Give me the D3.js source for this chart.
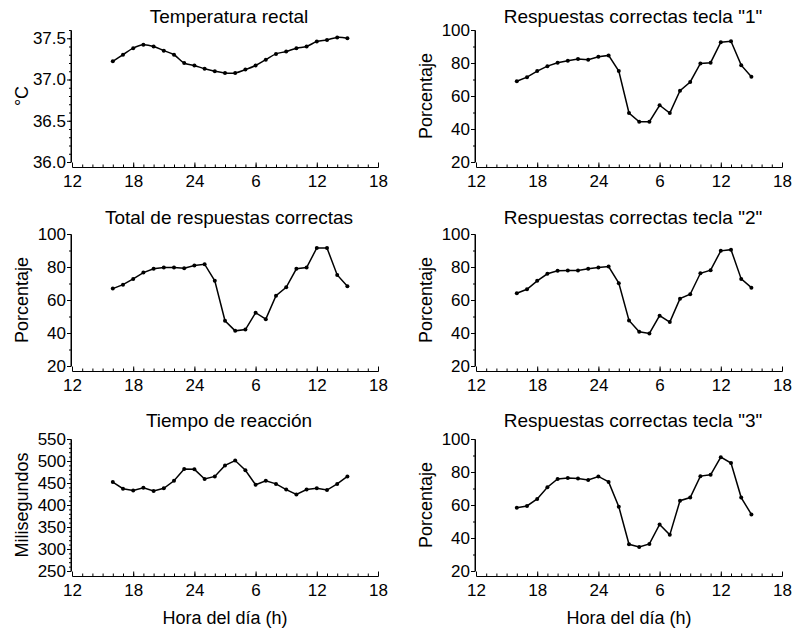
<!DOCTYPE html>
<html>
<head>
<meta charset="utf-8">
<script src="https://cdn.jsdelivr.net/npm/d3@7"></script>
<style>
  body { margin: 0; background: #fff; }
  svg { display: block; font-family: "Liberation Sans", Arial, sans-serif; }
  .axis path, .axis line { stroke: #000; stroke-width: 1; }
  .axis text { font-size: 17px; fill: #000; }
</style>
</head>
<body>
<div id="chart"></div>
<script>
// hour of day (continuous: 24 = midnight, 30 = 6 h next day)
const hours = [16, 17, 18, 19, 20, 21, 22, 23, 24, 25, 26, 27,
               28, 29, 30, 31, 32, 33, 34, 35, 36, 37, 38, 39];
const xTickValues = [12, 18, 24, 30, 36, 42];
const xTickLabels = ["12", "18", "24", "6", "12", "18"];

const tempRectal = [37.22, 37.30, 37.38, 37.42, 37.40, 37.35, 37.30, 37.20, 37.17, 37.13, 37.10, 37.08,
                    37.08, 37.12, 37.17, 37.24, 37.31, 37.34, 37.38, 37.40, 37.46, 37.48, 37.51, 37.50];
const totalCorrect = [66.9, 69.3, 72.8, 76.6, 78.9, 79.7, 79.7, 79.3, 80.9, 81.7, 71.6, 47.4,
                      41.3, 42.1, 52.3, 48.4, 62.6, 67.7, 78.9, 79.7, 91.5, 91.5, 75.2, 68.3];
const reactionTime = [452, 437, 433, 439, 432, 438, 455, 482, 481, 459, 465, 490,
                      501, 479, 446, 455, 448, 435, 424, 435, 438, 434, 448, 465];
const key1Correct = [68.9, 71.4, 75.1, 78.1, 80.2, 81.4, 82.4, 82.0, 83.8, 84.6, 75.1, 49.7,
                     44.4, 44.4, 54.4, 49.7, 63.2, 68.5, 79.7, 80.2, 92.6, 93.2, 78.7, 71.6];
const key2Correct = [64.1, 66.5, 71.6, 75.9, 77.7, 77.9, 77.9, 78.9, 79.7, 80.3, 70.2, 47.6,
                     40.7, 39.7, 50.5, 46.6, 60.8, 63.5, 76.2, 78.1, 89.8, 90.5, 72.8, 67.5];
const key3Correct = [58.4, 59.4, 63.7, 70.8, 75.8, 76.4, 76.0, 75.2, 77.3, 74.0, 59.0, 36.2,
                     34.6, 36.4, 48.2, 41.9, 62.6, 64.5, 77.5, 78.3, 89.0, 85.4, 64.5, 54.3];

const tempTicks = [36.0, 36.5, 37.0, 37.5];
const pctTicks = [20, 40, 60, 80, 100];
const msTicks = [250, 300, 350, 400, 450, 500, 550];

const titles = ["Temperatura rectal", "Total de respuestas correctas", "Tiempo de reacción",
                "Respuestas correctas tecla \"1\"", "Respuestas correctas tecla \"2\"", "Respuestas correctas tecla \"3\""];
const xAxisTitle = "Hora del día (h)";

const width = 795, height = 628;
const colX = [72, 476];
const plotW = 306;
const rowTop = [30, 234, 439];
const plotH = 132;
const titleBase = [23, 224, 427];

const pct = { domain: [20, 100], ticks: pctTicks, minor: 10, fmt: d3.format("d"), label: "Porcentaje" };
const panels = [
  { col: 0, row: 0, title: titles[0], values: tempRectal, domain: [36, 37.6], ticks: tempTicks, minor: 0.1,
    fmt: d3.format(".1f"), label: "°C", curve: d3.curveCatmullRom },
  { col: 0, row: 1, title: titles[1], values: totalCorrect, ...pct },
  { col: 0, row: 2, title: titles[2], values: reactionTime, domain: [250, 550], ticks: msTicks, minor: 10,
    fmt: d3.format("d"), label: "Milisegundos" },
  { col: 1, row: 0, title: titles[3], values: key1Correct, ...pct },
  { col: 1, row: 1, title: titles[4], values: key2Correct, ...pct },
  { col: 1, row: 2, title: titles[5], values: key3Correct, ...pct }
];

const svg = d3.select("#chart").append("svg")
  .attr("width", width)
  .attr("height", height);

panels.forEach(p => {
  const x0 = colX[p.col];
  const top = rowTop[p.row];
  const g = svg.append("g").attr("transform", `translate(${x0}, ${top})`);

  const x = d3.scaleLinear().domain([12, 42]).range([0, plotW]);
  const y = d3.scaleLinear().domain(p.domain).range([plotH, 0]);

  // y axis, minor ticks first
  const minorVals = d3.range(p.domain[0], p.domain[1] + p.minor / 2, p.minor);
  g.append("g")
    .attr("class", "axis")
    .attr("transform", "translate(-1, 0)")
    .call(d3.axisLeft(y).tickValues(minorVals).tickSize(2).tickSizeOuter(0).tickFormat(""));
  g.append("g")
    .attr("class", "axis")
    .attr("transform", "translate(-1, 0)")
    .call(d3.axisLeft(y).tickValues(p.ticks).tickSize(4).tickSizeOuter(0).tickPadding(1).tickFormat(p.fmt))
    .call(a => a.select(".domain").attr("d", `M0,${y(p.domain[1])}V${plotH}`));

  // x axis sits a few px below the plot, ticks point inward
  const xg = g.append("g").attr("transform", `translate(0, ${plotH + 5})`);
  xg.append("g")
    .attr("class", "axis")
    .call(d3.axisBottom(x).tickValues(d3.range(12, 43, 1)).tickSizeInner(-2.5).tickSizeOuter(0).tickFormat(""));
  xg.append("g")
    .attr("class", "axis")
    .call(d3.axisBottom(x).tickValues(xTickValues).tickSizeInner(-4.5).tickSizeOuter(0).tickPadding(8)
      .tickFormat((d, i) => xTickLabels[i]));

  // title
  svg.append("text")
    .attr("x", x0 + plotW / 2 + 4)
    .attr("y", titleBase[p.row])
    .attr("text-anchor", "middle")
    .attr("font-size", 19)
    .text(p.title);

  // y label
  svg.append("text")
    .attr("transform", `translate(${x0 - 44}, ${top + plotH / 2}) rotate(-90)`)
    .attr("text-anchor", "middle")
    .attr("font-size", 18)
    .text(p.label);

  if (p.row === 2) {
    svg.append("text")
      .attr("x", x0 + plotW / 2)
      .attr("y", 624)
      .attr("text-anchor", "middle")
      .attr("font-size", 18)
      .text(xAxisTitle);
  }

  const data = hours.map((h, i) => ({ h, v: p.values[i] }));
  const line = d3.line()
    .x(d => x(d.h))
    .y(d => y(d.v))
    .curve(p.curve || d3.curveLinear);

  g.append("path")
    .datum(data)
    .attr("fill", "none")
    .attr("stroke", "#000")
    .attr("stroke-width", 1.5)
    .attr("d", line);

  g.selectAll("circle")
    .data(data)
    .join("circle")
    .attr("cx", d => x(d.h))
    .attr("cy", d => y(d.v))
    .attr("r", 2)
    .attr("fill", "#000");
});
</script>
</body>
</html>
